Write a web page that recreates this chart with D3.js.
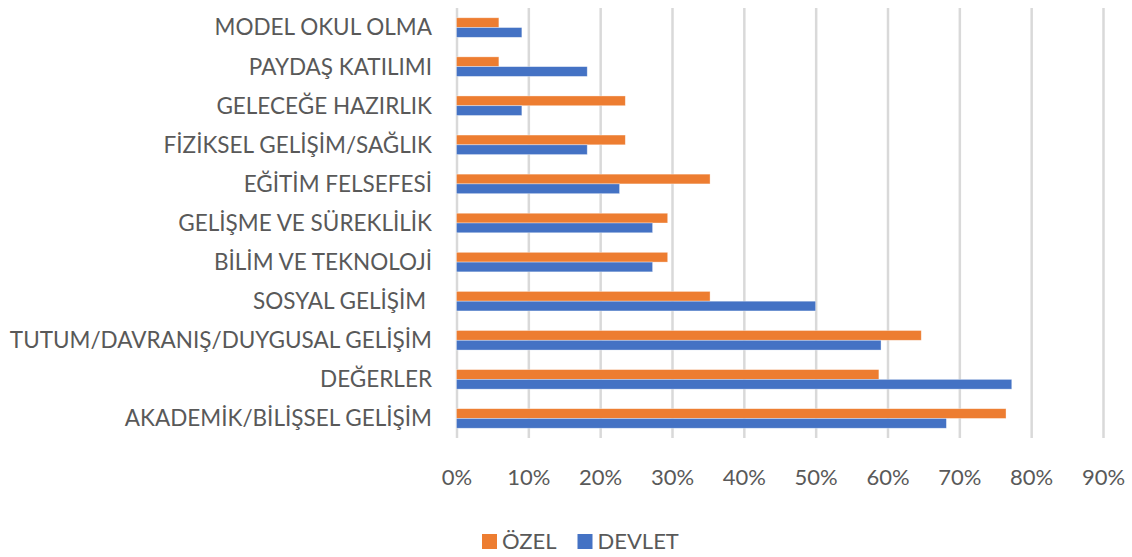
<!DOCTYPE html>
<html>
<head>
<meta charset="utf-8">
<script src="https://cdn.jsdelivr.net/npm/d3@7"></script>
<style>
  body { margin: 0; background: #fff; }
  text { font-family: Lato, "Liberation Sans", sans-serif; fill: #595959; }
</style>
</head>
<body>
<div id="chart"></div>
<script>
// categories, top to bottom as in the picture
var categories = [
  "MODEL OKUL OLMA",
  "PAYDAŞ KATILIMI",
  "GELECEĞE HAZIRLIK",
  "FİZİKSEL GELİŞİM/SAĞLIK",
  "EĞİTİM FELSEFESİ",
  "GELİŞME VE SÜREKLİLİK",
  "BİLİM VE TEKNOLOJİ",
  "SOSYAL GELİŞİM ",
  "TUTUM/DAVRANIŞ/DUYGUSAL GELİŞİM",
  "DEĞERLER",
  "AKADEMİK/BİLİŞSEL GELİŞİM"
];
var seriesNames = ["ÖZEL", "DEVLET"];
var seriesColors = ["#ED7D31", "#4472C4"];
var ozel   = [0.059, 0.059, 0.235, 0.235, 0.353, 0.294, 0.294, 0.353, 0.647, 0.588, 0.765];
var devlet = [0.091, 0.182, 0.091, 0.182, 0.227, 0.273, 0.273, 0.500, 0.591, 0.773, 0.682];
var tickValues = [0, 0.1, 0.2, 0.3, 0.4, 0.5, 0.6, 0.7, 0.8, 0.9];

var W = 1132, H = 557;
var margin = {top: 8, left: 456.5},
    width = 646.5,
    height = 430;

var svg = d3.select("#chart").append("svg")
    .attr("width", W)
    .attr("height", H);

var g = svg.append("g")
    .attr("transform", "translate(" + margin.left + "," + margin.top + ")");

var x = d3.scaleLinear().domain([0, 0.9]).range([0, width]);
var y = d3.scaleBand().domain(categories).range([0, height])
    .paddingInner(0.5).paddingOuter(0.25);
var ySub = d3.scaleBand().domain(seriesNames).range([0, y.bandwidth()]);

// gridlines + tick labels
var xAxis = g.append("g")
    .attr("transform", "translate(0," + height + ")")
    .call(d3.axisBottom(x).tickValues(tickValues).tickSize(-height)
      .tickFormat(d3.format(".0%")));
xAxis.select(".domain").remove();
xAxis.selectAll(".tick line").attr("stroke", "#d9d9d9").attr("stroke-width", 2.5);
xAxis.selectAll(".tick text")
    .attr("y", 39).attr("dy", "0.35em")
    .style("font-size", "22px").attr("fill", "#595959");

// category labels
g.selectAll(".cat")
  .data(categories)
  .enter().append("text")
    .attr("class", "cat")
    .attr("x", -24.5)
    .attr("y", function(d) { return y(d) + y.bandwidth() / 2; })
    .attr("dy", "0.35em")
    .attr("text-anchor", "end")
    .style("font-size", "22.5px")
    .style("white-space", "pre")
    .text(function(d) { return d; });

// bars
var rows = categories.map(function(c, i) {
  return {cat: c, vals: [{s: "ÖZEL", v: ozel[i]}, {s: "DEVLET", v: devlet[i]}]};
});
var groups = g.selectAll(".grp")
  .data(rows)
  .enter().append("g")
    .attr("transform", function(d) { return "translate(0," + y(d.cat) + ")"; });
groups.selectAll("rect")
  .data(function(d) { return d.vals; })
  .enter().append("rect")
    .attr("x", x(0))
    .attr("y", function(d) { return ySub(d.s); })
    .attr("width", function(d) { return x(d.v) - x(0); })
    .attr("height", ySub.bandwidth())
    .attr("fill", function(d, i) { return seriesColors[i]; })
    .attr("stroke", "#fff")
    .attr("stroke-opacity", 0.5)
    .attr("stroke-width", 0.7);

// legend
var legend = svg.append("g").attr("transform", "translate(482,541.5)");
var lx = 0;
seriesNames.forEach(function(name, i) {
  legend.append("rect")
    .attr("x", lx).attr("y", -7.5)
    .attr("width", 15).attr("height", 15)
    .attr("fill", seriesColors[i]);
  var t = legend.append("text")
    .attr("x", lx + 20).attr("y", 0).attr("dy", "0.35em")
    .style("font-size", "22px")
    .text(name);
  lx += 20 + t.node().getComputedTextLength() + 21;
});
</script>
</body>
</html>
